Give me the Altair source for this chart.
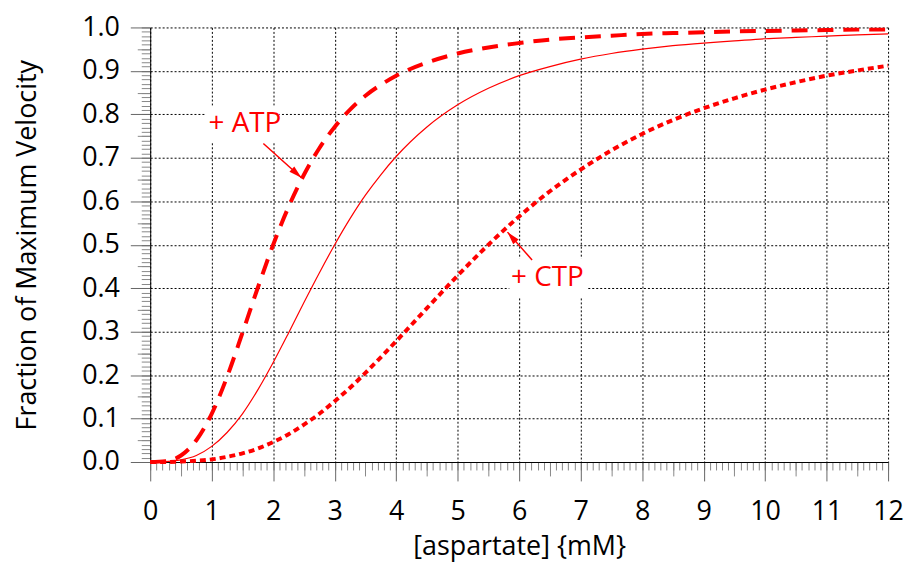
import altair as alt
import pandas as pd

# ---- data ----
conc = [0, 0.25, 0.5, 0.75, 1.0, 1.25, 1.5, 1.75, 2.0, 2.25, 2.5, 2.75, 3.0, 3.25, 3.5, 3.75, 4.0,
        4.5, 5.0, 5.5, 6.0, 6.5, 7.0, 7.5, 8.0, 8.5, 9.0, 9.5, 10.0, 10.5, 11.0, 11.5, 12.0]
atp = [0, 0.002, 0.015, 0.050, 0.111, 0.196, 0.297, 0.401, 0.500, 0.587, 0.661, 0.722, 0.771, 0.811, 0.843, 0.868, 0.889,
       0.919, 0.940, 0.954, 0.964, 0.972, 0.977, 0.981, 0.985, 0.987, 0.989, 0.991, 0.992, 0.993, 0.994, 0.995, 0.995]
normal = [0, 0.001, 0.005, 0.015, 0.036, 0.068, 0.111, 0.166, 0.229, 0.297, 0.367, 0.435, 0.500, 0.560, 0.614, 0.661, 0.703,
          0.771, 0.822, 0.860, 0.889, 0.910, 0.927, 0.940, 0.950, 0.958, 0.964, 0.969, 0.974, 0.977, 0.980, 0.983, 0.985]
ctp = [0, 0.000, 0.001, 0.003, 0.006, 0.012, 0.020, 0.031, 0.046, 0.064, 0.086, 0.111, 0.140, 0.171, 0.205, 0.241, 0.278,
       0.354, 0.429, 0.500, 0.565, 0.623, 0.673, 0.717, 0.755, 0.787, 0.814, 0.837, 0.857, 0.874, 0.889, 0.901, 0.912]

labels = ["+ ATP", "+ CTP"]
label_x = [1.54, 6.46]
label_y = [0.778, 0.424]
box_x0 = [0.90, 5.84]
box_x1 = [2.10, 7.11]
box_y0 = [0.735, 0.380]
box_y1 = [0.820, 0.469]
arrow_x0 = [1.84, 6.21]
arrow_y0 = [0.733, 0.465]
arrow_x1 = [2.46, 5.81]
arrow_y1 = [0.654, 0.529]
arrow_angle = [42, 229]

x_major = list(range(13))
x_mid = [round(0.5 + i, 1) for i in range(12)]
x_minor = [round(0.1 * i, 1) for i in range(121)]
y_major = [round(0.1 * i, 1) for i in range(11)]
y_mid = [round(0.05 + 0.1 * i, 2) for i in range(10)]
y_minor = [round(0.01 * i, 2) for i in range(101)]

n = len(conc)
df = pd.DataFrame({
    "conc": conc * 3,
    "frac": atp + normal + ctp,
    "series": ["ATP"] * n + ["none"] * n + ["CTP"] * n,
})
ann = pd.DataFrame({
    "label": labels, "lx": label_x, "ly": label_y,
    "bx0": box_x0, "bx1": box_x1, "by0": box_y0, "by1": box_y1,
    "ax0": arrow_x0, "ay0": arrow_y0, "ax1": arrow_x1, "ay1": arrow_y1,
    "ang": arrow_angle,
})

FONT = "Open Sans"
RED = "#ff0000"
xs = alt.Scale(domain=[0, 12], nice=False, zero=False)
ys = alt.Scale(domain=[0, 1], nice=False, zero=False)

x_axis_major = alt.Axis(
    orient="bottom", values=x_major, format="d", tickSize=19, tickColor="#666", tickWidth=1,
    domainColor="black", domainWidth=1, labelFont=FONT, labelFontSize=27, labelColor="black",
    labelBaseline="alphabetic", labelPadding=39, labelFlush=False, labelOverlap=False,
    grid=True, gridColor="black", gridDash=[2, 2], gridWidth=1,
    title="[aspartate] {mM}", titleFont=FONT, titleFontSize=27, titleFontWeight="normal",
    titleColor="black", titleBaseline="alphabetic", titleX=371, titleY=93,
)
y_axis_major = alt.Axis(
    orient="left", values=y_major, format=".1f", tickSize=20, tickColor="#666", tickWidth=1,
    domainColor="black", domainWidth=1, labelFont=FONT, labelFontSize=27, labelColor="black",
    labelPadding=11, labelFlush=False, labelOverlap=False,
    grid=True, gridColor="black", gridDash=[2, 2], gridWidth=1,
    title="Fraction of Maximum Velocity", titleFont=FONT, titleFontSize=27, titleFontWeight="normal",
    titleColor="black", titleBaseline="alphabetic", titleAngle=270, titleX=-115, titleY=218.5,
)

def minor_axis(orient, vals, size):
    return alt.Axis(orient=orient, values=vals, tickSize=size, tickColor="#888", tickWidth=1,
                    labels=False, domain=False, grid=False)

minor_layer = alt.Chart(df).mark_point(opacity=0).encode(
    x=alt.X("conc:Q", scale=xs, axis=minor_axis("bottom", x_minor, 8), title=None),
    y=alt.Y("frac:Q", scale=ys, axis=minor_axis("left", y_minor, 9), title=None),
)
mid_layer = alt.Chart(df).mark_point(opacity=0).encode(
    x=alt.X("conc:Q", scale=xs, axis=minor_axis("bottom", x_mid, 14), title=None),
    y=alt.Y("frac:Q", scale=ys, axis=minor_axis("left", y_mid, 13), title=None),
)

base = alt.Chart(df)
atp_line = base.transform_filter(alt.datum.series == "ATP").mark_line(
    color=RED, strokeWidth=4, strokeDash=[16, 10], interpolate="monotone"
).encode(
    x=alt.X("conc:Q", scale=xs, axis=x_axis_major),
    y=alt.Y("frac:Q", scale=ys, axis=y_axis_major),
)
norm_line = base.transform_filter(alt.datum.series == "none").mark_line(
    color=RED, strokeWidth=1.2, interpolate="monotone"
).encode(
    x=alt.X("conc:Q", scale=xs, axis=None),
    y=alt.Y("frac:Q", scale=ys, axis=None),
)
ctp_line = base.transform_filter(alt.datum.series == "CTP").mark_line(
    color=RED, strokeWidth=4, strokeDash=[6, 4], interpolate="monotone"
).encode(
    x=alt.X("conc:Q", scale=xs, axis=None),
    y=alt.Y("frac:Q", scale=ys, axis=None),
)

abase = alt.Chart(ann)
boxes = abase.mark_rect(fill="white").encode(
    x=alt.X("bx0:Q", scale=xs, axis=None), x2="bx1:Q",
    y=alt.Y("by0:Q", scale=ys, axis=None), y2="by1:Q",
)
texts = abase.mark_text(font=FONT, fontSize=28, color=RED, align="center", baseline="middle").encode(
    x=alt.X("lx:Q", scale=xs, axis=None),
    y=alt.Y("ly:Q", scale=ys, axis=None),
    text="label:N",
)
shafts = abase.mark_rule(color=RED, strokeWidth=1.5).encode(
    x=alt.X("ax0:Q", scale=xs, axis=None), x2="ax1:Q",
    y=alt.Y("ay0:Q", scale=ys, axis=None), y2="ay1:Q",
)
heads = abase.mark_point(shape="M0,0L-1,-0.28L-1,0.28Z", filled=True, size=676, color=RED, opacity=1).encode(
    x=alt.X("ax1:Q", scale=xs, axis=None),
    y=alt.Y("ay1:Q", scale=ys, axis=None),
    angle=alt.Angle("ang:Q", scale=None),
)

chart = alt.layer(
    minor_layer, mid_layer, atp_line, norm_line, ctp_line, boxes, texts, shafts, heads
).resolve_axis(x="independent", y="independent").properties(
    width=742, height=437,
    padding={"left": 143, "top": 18, "right": 16, "bottom": 101},
    autosize=alt.AutoSizeParams(type="none"),
).configure_view(stroke=None)

chart.save("out.html", embed_options={"renderer": "svg", "actions": False})
